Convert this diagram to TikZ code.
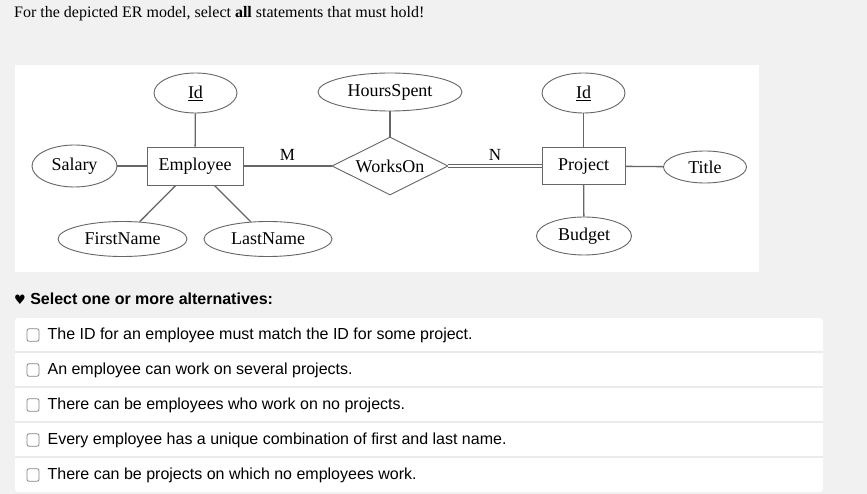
\documentclass[tikz,border=0pt]{standalone}
\usepackage{fontspec}
\setmainfont{Liberation Serif}
\setsansfont{Liberation Sans}
\newfontfamily\symfont{DejaVu Sans}
\usetikzlibrary{shapes.geometric, positioning}
\definecolor{pagegray}{HTML}{F1F1F1}
\definecolor{ergray}{HTML}{666666}
\definecolor{rulegray}{HTML}{EBEBEB}
\definecolor{boxgray}{HTML}{858585}

\begin{document}
\begin{tikzpicture}[x=1pt, y=-1pt,
    every node/.style = {inner sep=0pt},
    er/.style = {font=\fontsize{18}{20}\selectfont, draw=ergray, line width=0.9pt},
    entity/.style = {er, rectangle, minimum height=38pt},
    attrib/.style = {er, ellipse, minimum height=38pt},
    rel/.style = {er, diamond, aspect=2, minimum width=116pt, minimum height=58pt},
    link/.style = {draw=ergray, line width=1.3pt},
    card/.style = {font=\fontsize{17}{20}\selectfont},
    tickbox/.style = {draw=boxgray, line width=0.8pt, rounded corners=2pt,
        minimum width=12pt, minimum height=12.5pt},
    answer/.style = {font=\sffamily\fontsize{16}{19}\selectfont, anchor=west}
    ]
    % page and panels
    \useasboundingbox (0,0) rectangle (867,494);
    \fill[pagegray] (0,0) rectangle (867,494);
    \fill[white] (15,65) rectangle (759,272);
    \fill[white, rounded corners=3pt] (15,318) rectangle (823,492);

    \node[anchor=base west, font=\fontsize{16}{18}\selectfont] (question) at (14,18)
        {For the depicted ER model, select \textbf{all} statements that must hold!};

    % ER model
    \node[entity, minimum width=96pt] (emp) at (195,166) {Employee};
    \node[attrib, minimum width=83pt, minimum height=40pt] (empid) at (195.5,93) {\underline{Id}};
    \node[attrib, minimum width=85pt, minimum height=42pt] (salary) at (74.5,166) {Salary};
    \node[attrib, minimum width=129pt, minimum height=35pt] (first) at (122.5,239) {FirstName};
    \node[attrib, minimum width=128pt, minimum height=35pt] (last) at (268,239) {LastName};
    \node[rel] (works) at (390,166) {WorksOn};
    \node[attrib, minimum width=144pt] (hours) at (390,92) {HoursSpent};
    \node[entity, minimum width=83pt, minimum height=37pt] (proj) at (583.5,166) {Project};
    \node[attrib, minimum width=83pt, minimum height=40pt] (projid) at (583.5,93) {\underline{Id}};
    \node[attrib, minimum width=83pt, minimum height=32pt] (title) at (705,167) {Title};
    \node[attrib, minimum width=95pt] (budget) at (584,236) {Budget};

    \draw[link] (emp) -- (empid);
    \draw[link] (emp) -- (salary);
    \draw[link] (emp) -- (first);
    \draw[link] (emp) -- (last);
    \draw[link] (emp) -- node[card, above=5pt] {M} (works);
    \draw[link] (works) -- (hours);
    \draw[draw=ergray, line width=0.9pt, double=white, double distance=2pt]
        (works.east) -- node[card, above=5pt] {N} (proj.west);
    \draw[link] (proj) -- (projid);
    \draw[link] (proj) -- (title);
    \draw[link] (proj) -- (budget);

    % alternatives
    \node[anchor=base west, font=\sffamily\bfseries\fontsize{16}{19}\selectfont] (prompt) at (14,304)
        {{\symfont\fontsize{13}{16}\selectfont ♥} Select one or more alternatives:};

    \draw[rulegray, line width=1.5pt] (15,352) -- (823,352);
    \draw[rulegray, line width=1.5pt] (15,387) -- (823,387);
    \draw[rulegray, line width=1.5pt] (15,422) -- (823,422);
    \draw[rulegray, line width=1.5pt] (15,457) -- (823,457);

    \node[tickbox] (box1) at (33,335) {};
    \node[tickbox] (box2) at (33,370) {};
    \node[tickbox] (box3) at (33,405) {};
    \node[tickbox] (box4) at (33,440) {};
    \node[tickbox] (box5) at (33,475) {};
    \node[answer, right=8pt of box1] (opt1) {The ID for an employee must match the ID for some project.};
    \node[answer, right=8pt of box2] (opt2) {An employee can work on several projects.};
    \node[answer, right=8pt of box3] (opt3) {There can be employees who work on no projects.};
    \node[answer, right=8pt of box4] (opt4) {Every employee has a unique combination of first and last name.};
    \node[answer, right=8pt of box5] (opt5) {There can be projects on which no employees work.};
\end{tikzpicture}
\end{document}
